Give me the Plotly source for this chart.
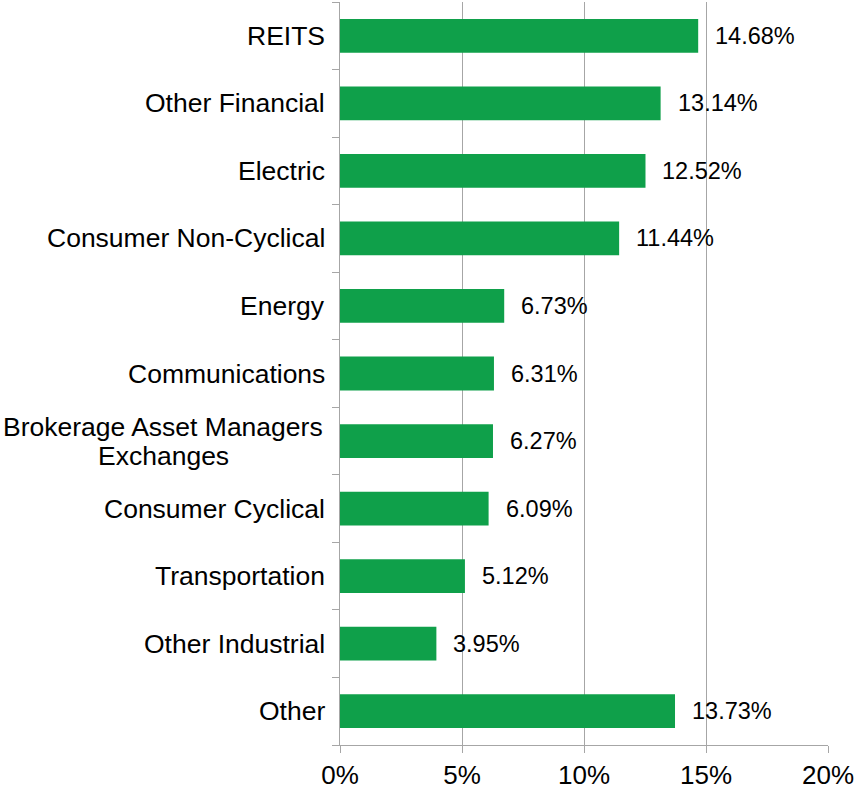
import plotly.graph_objects as go

categories = ["REITS", "Other Financial", "Electric", "Consumer Non-Cyclical", "Energy",
              "Communications", "Brokerage Asset Managers<br>Exchanges", "Consumer Cyclical",
              "Transportation", "Other Industrial", "Other"]
values = [14.68, 13.14, 12.52, 11.44, 6.73, 6.31, 6.27, 6.09, 5.12, 3.95, 13.73]
x_ticks = [0, 5, 10, 15, 20]
x_tick_labels = ["0%", "5%", "10%", "15%", "20%"]

GREEN = "#0FA04A"
GRID = "#A6A6A6"
FONT = "Liberation Sans, Arial, sans-serif"
LINE_H = 29

fig = go.Figure()
fig.add_trace(go.Bar(
    y=categories, x=values, orientation="h",
    marker=dict(color=GREEN, line=dict(width=0)),
    width=0.5, hoverinfo="skip",
))

annotations = []
for c, v in zip(categories, values):
    annotations.append(dict(x=v, y=c, xref="x", yref="y", text=f"{v:.2f}%",
                            showarrow=False, xanchor="left", xshift=15,
                            font=dict(family=FONT, size=23.5, color="#000000")))
    lines = c.split("<br>")
    n = len(lines)
    for i, ln in enumerate(lines):
        annotations.append(dict(x=0, y=c, xref="paper", yref="y", text=ln,
                                showarrow=False, xanchor="center" if n > 1 else "right",
                                xshift=-177 if n > 1 else -13,
                                yshift=((n - 1) / 2 - i) * LINE_H,
                                font=dict(family=FONT, size=26.5, color="#000000")))

fig.update_layout(
    width=860, height=792,
    margin=dict(l=340, r=32, t=2, b=47),
    plot_bgcolor="white", paper_bgcolor="white",
    showlegend=False,
    annotations=annotations,
    xaxis=dict(range=[0, 20], tickvals=x_ticks, ticktext=x_tick_labels,
               showgrid=True, gridcolor=GRID, gridwidth=1,
               showline=True, linecolor=GRID, linewidth=1,
               ticks="outside", ticklen=7, tickcolor=GRID,
               tickfont=dict(family=FONT, size=26, color="#000000"),
               zeroline=False, fixedrange=True),
    yaxis=dict(categoryorder="array", categoryarray=categories[::-1],
               showticklabels=False, showgrid=False,
               showline=True, linecolor=GRID, linewidth=1,
               ticks="outside", ticklen=7, tickcolor=GRID, tickson="boundaries",
               zeroline=False, fixedrange=True),
    bargap=0.5,
)

fig.write_html("out.html", config={"displayModeBar": False},
               post_script="document.body.style.margin='0';document.body.style.overflow='hidden';")
